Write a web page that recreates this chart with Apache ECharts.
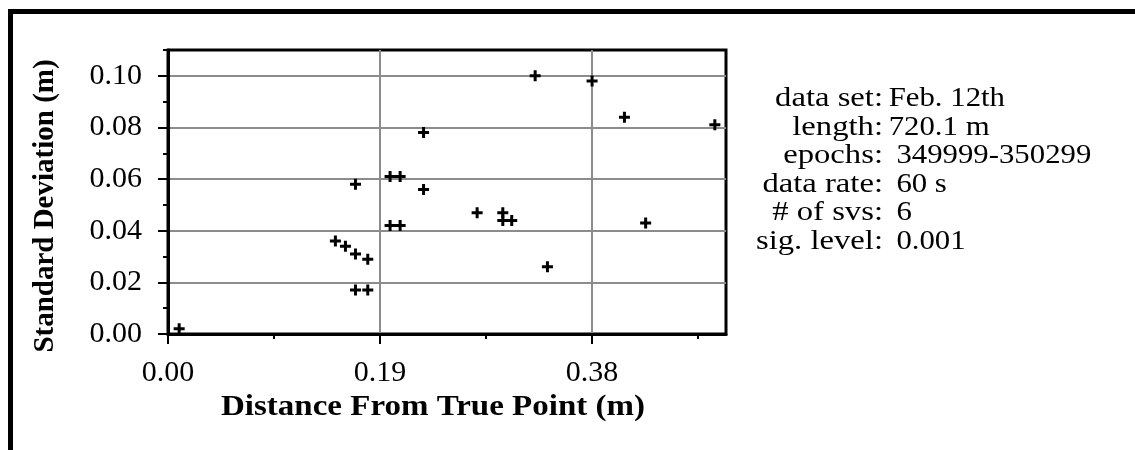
<!DOCTYPE html>
<html>
<head>
<meta charset="utf-8">
<title>Standard Deviation vs Distance From True Point</title>
<script src="https://cdn.jsdelivr.net/npm/echarts@6/dist/echarts.min.js"></script>
<style>
  html, body { margin: 0; padding: 0; background: #fff; }
  #chart { width: 1135px; height: 450px; }
</style>
</head>
<body>
<div id="chart"></div>
<script>
// Per-solution distance from the true point (m) and its standard deviation (m)
const distance = [
  0.010, 0.150, 0.159, 0.168, 0.179, 0.168, 0.179, 0.168,
  0.199, 0.208, 0.199, 0.208, 0.229, 0.229,
  0.329, 0.380, 0.409, 0.490, 0.277, 0.300, 0.300, 0.308, 0.428, 0.340
];
const stdDev = [
  0.002, 0.036, 0.034, 0.031, 0.029, 0.017, 0.017, 0.058,
  0.061, 0.061, 0.042, 0.042, 0.078, 0.056,
  0.100, 0.098, 0.084, 0.081, 0.047, 0.047, 0.044, 0.044, 0.043, 0.026
];

// Axis tick values
const xMajorTicks = [0, 0.19, 0.38];
const xMinorTicks = [0.095, 0.285, 0.475];
const yMajorTicks = [0, 0.02, 0.04, 0.06, 0.08, 0.10];
const yMinorTicks = [0.01, 0.03, 0.05, 0.07, 0.09, 0.11];

// Run summary shown beside the plot
const statLabels = ['data set:', 'length:', 'epochs:', 'data rate:', '# of svs:', 'sig. level:'];
const statValues = [' Feb. 12th', ' 720.1 m', '  349999-350299', '  60 s', '  6', '  0.001'];

const xTitle = 'Distance From True Point (m)';
const yTitle = 'Standard Deviation (m)';

const SERIF = '"Liberation Serif", "Times New Roman", serif';
const points = distance.map((d, i) => [d, stdDev[i]]);
const fmt = v => v.toFixed(2);

const axisLineStyle = { color: '#000', width: 3 };
const gridLineStyle = { color: '#8c8c8c', width: 2 };

const chart = echarts.init(document.getElementById('chart'), null, { renderer: 'canvas' });

// summary block: labels right-aligned on the colon, values following it
const statText = [];
statLabels.forEach((label, i) => {
  const y = 99 + i * 28.6;
  statText.push({
    type: 'text', x: 883, y: y, scaleX: 1.21, silent: true,
    style: { text: label, fill: '#000', font: '27px ' + SERIF, textAlign: 'right', textVerticalAlign: 'middle' }
  });
  statText.push({
    type: 'text', x: 881, y: y, scaleX: 1.14, silent: true,
    style: { text: statValues[i], fill: '#000', font: '27px ' + SERIF, textAlign: 'left', textVerticalAlign: 'middle' }
  });
});

chart.setOption({
  animation: false,
  backgroundColor: '#fff',
  grid: {
    left: 168, right: 409, top: 50, bottom: 116,
    show: true, borderColor: '#000', borderWidth: 3, backgroundColor: 'transparent'
  },
  xAxis: [
    {
      type: 'value', min: 0, max: 0.5, interval: 0.19, position: 'bottom',
      axisLine: { show: true, onZero: false, lineStyle: axisLineStyle },
      axisTick: { show: true, length: 10, customValues: xMajorTicks, lineStyle: { color: '#000', width: 2 } },
      axisLabel: {
        customValues: xMajorTicks, formatter: fmt, margin: 24,
        color: '#000', fontFamily: SERIF, fontSize: 30
      },
      splitLine: { show: true, lineStyle: gridLineStyle }
    },
    {
      type: 'value', min: 0, max: 0.5, position: 'bottom', offset: 0,
      axisLine: { show: false },
      axisTick: { show: true, length: 5, customValues: xMinorTicks, lineStyle: { color: '#000', width: 2 } },
      axisLabel: { show: false },
      splitLine: { show: false }
    }
  ],
  yAxis: [
    {
      type: 'value', min: 0, max: 0.11, interval: 0.02, position: 'left',
      axisLine: { show: true, onZero: false, lineStyle: axisLineStyle },
      axisTick: { show: true, length: 10, customValues: yMajorTicks, lineStyle: { color: '#000', width: 2 } },
      axisLabel: {
        customValues: yMajorTicks, formatter: fmt, margin: 26,
        color: '#000', fontFamily: SERIF, fontSize: 30
      },
      splitLine: { show: true, lineStyle: gridLineStyle }
    },
    {
      type: 'value', min: 0, max: 0.11, position: 'left', offset: 0,
      axisLine: { show: false },
      axisTick: { show: true, length: 5, customValues: yMinorTicks, lineStyle: { color: '#000', width: 2 } },
      axisLabel: { show: false },
      splitLine: { show: false }
    }
  ],
  series: [{
    type: 'scatter',
    xAxisIndex: 0, yAxisIndex: 0,
    data: points,
    symbol: 'path://M4,0h3v11h-3z M0,4h11v3h-11z',
    symbolSize: 11,
    itemStyle: { color: '#000', opacity: 1 },
    emphasis: { disabled: true },
    silent: true,
    z: 5
  }],
  graphic: [
    // outer frame: heavy rule along the top and down the left side
    { type: 'rect', silent: true, shape: { x: 8, y: 9, width: 1127, height: 5 }, style: { fill: '#000' } },
    { type: 'rect', silent: true, shape: { x: 8, y: 9, width: 5, height: 441 }, style: { fill: '#000' } },
    {
      type: 'text', x: 433, y: 407, scaleX: 1.1, silent: true,
      style: { text: xTitle, fill: '#000', font: 'bold 30px ' + SERIF, textAlign: 'center', textVerticalAlign: 'middle' }
    },
    {
      type: 'text', x: 46, y: 206, rotation: Math.PI / 2, silent: true,
      style: { text: yTitle, fill: '#000', font: 'bold 29px ' + SERIF, textAlign: 'center', textVerticalAlign: 'middle' }
    }
  ].concat(statText)
});
</script>
</body>
</html>
